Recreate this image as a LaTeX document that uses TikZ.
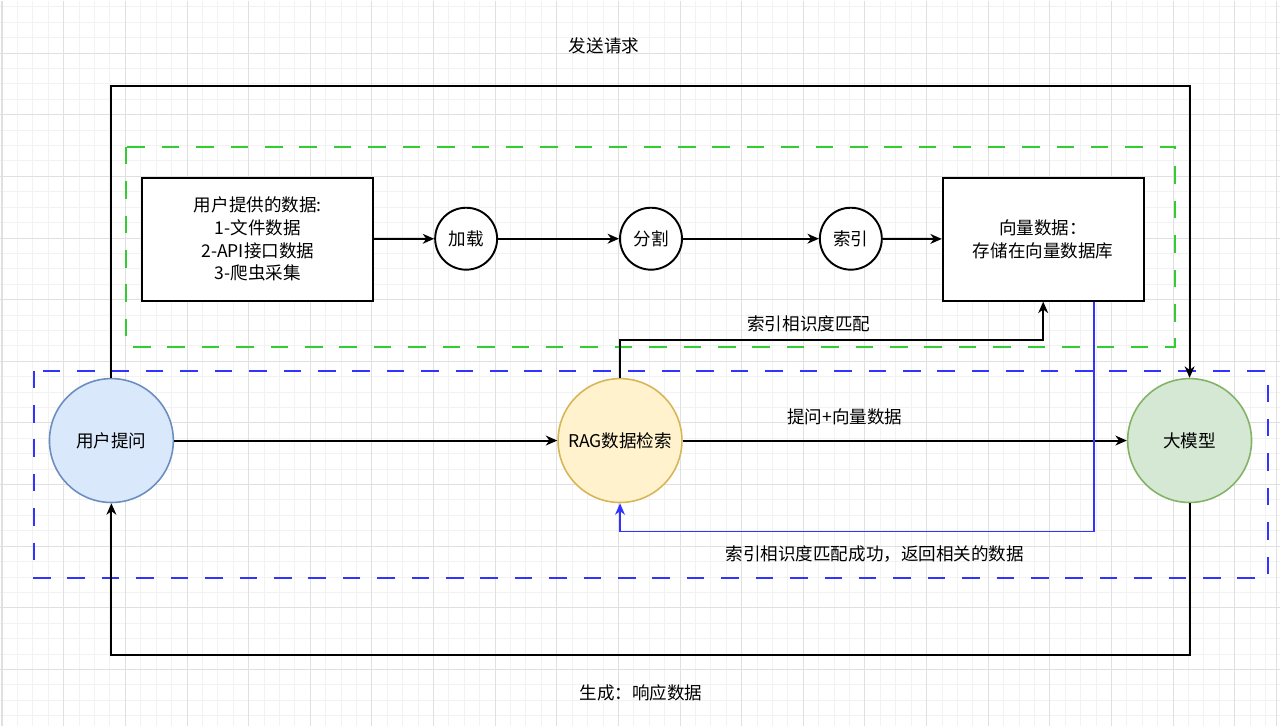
\documentclass[tikz,border=0pt]{standalone}
\usepackage{fontspec}
\setmainfont{Noto Sans CJK SC}
\usetikzlibrary{arrows.meta, calc}

\definecolor{usrfill}{HTML}{DAE8FC}
\definecolor{usrline}{HTML}{6C8EBF}
\definecolor{ragfill}{HTML}{FFF2CC}
\definecolor{ragline}{HTML}{D6B656}
\definecolor{llmfill}{HTML}{D5E8D4}
\definecolor{llmline}{HTML}{82B366}
\definecolor{gridminor}{HTML}{F2F2F2}
\definecolor{gridmajor}{HTML}{E0E0E0}
\definecolor{dashgreen}{HTML}{33CC33}
\definecolor{dashblue}{HTML}{3333FF}

\begin{document}
\begin{tikzpicture}[x=0.02cm, y=-0.02cm, >={Stealth[length=6.5pt, width=5.6pt, inset=2pt]},
  every node/.style={font=\fontsize{10}{12.9}\selectfont},
  flow/.style={->, line width=1.1pt},
  box/.style={draw, line width=1.1pt, fill=white, align=center, minimum height=2.46cm, inner sep=0pt},
  stepnode/.style={draw, circle, line width=1.1pt, fill=white, minimum size=1.24cm, inner sep=0pt},
  bubble/.style={draw, circle, line width=0.9pt, minimum size=2.48cm, inner sep=0pt},
  frame/.style={line width=1.1pt, dash pattern=on 10pt off 9.6pt}]
  % canvas and grid
  \fill[white] (0,0) rectangle (1280,726);
  \foreach \i in {0,...,82} {\draw[gridminor, line width=0.55pt] ({1.6+15.42*\i},0) -- ++(0,726);}
  \foreach \j in {0,...,46} {\draw[gridminor, line width=0.55pt] (0,{6.0+15.42*\j}) -- ++(1280,0);}
  \foreach \i in {0,4,...,80} {\draw[gridmajor, line width=0.55pt] ({1.6+15.42*\i},0) -- ++(0,726);}
  \foreach \j in {3,7,...,43} {\draw[gridmajor, line width=0.55pt] (0,{6.0+15.42*\j}) -- ++(1280,0);}
  \draw[gridmajor, line width=1pt] (1.6,0) -- (1.6,726);
  \draw[gridmajor, line width=1pt] (1277,0) -- (1277,726);

  % dashed groups
  \draw[frame, draw=dashgreen] (126,146) rectangle (1175,346);
  \draw[frame, draw=dashblue] (34,370) rectangle (1268,578);

  % nodes
  \node[box, minimum width=4.62cm] (src) at (257.5,238.5) {用户提供的数据:\\1-文件数据\\2-API接口数据\\3-爬虫采集};
  \node[stepnode] (load) at (466,238) {加载};
  \node[stepnode] (split) at (651,238) {分割};
  \node[stepnode] (index) at (851,238) {索引};
  \node[box, minimum width=4.02cm] (vec) at (1043.5,238.5) {向量数据：\\存储在向量数据库};
  \node[bubble, fill=usrfill, draw=usrline] (user) at (111,440) {用户提问};
  \node[bubble, fill=ragfill, draw=ragline] (rag) at (620,440) {RAG数据检索};
  \node[bubble, fill=llmfill, draw=llmline] (llm) at (1190,440) {大模型};

  % connectors
  \coordinate (topline) at (0,85);
  \coordinate (botline) at (0,655);
  \coordinate (matchline) at (0,339);
  \coordinate (backline) at (0,531);
  \coordinate (vecout) at ($(vec.south)!0.5!(vec.south east)$);
  \draw[flow] (src) -- (load);
  \draw[flow] (load) -- (split);
  \draw[flow] (split) -- (index);
  \draw[flow] (index) -- (vec);
  \draw[flow] (user) -- (rag);
  \draw[flow] (rag) -- (llm);
  \draw[flow] (user.north) -- (user.north |- topline) -| (llm.north);
  \draw[flow] (llm.south) -- (llm.south |- botline) -| (user.south);
  \draw[flow] (rag.north) -- (rag.north |- matchline) -| (vec.south);
  \draw[flow, draw=dashblue, line width=0.9pt] (vecout) -- (vecout |- backline) -| (rag.south);

  % labels
  \node (asklabel) at (604,45) {发送请求};
  \node (genlabel) at (641,692) {生成：响应数据};
  \node (matchlabel) at (809,323) {索引相识度匹配};
  \node (asklabel2) at (845,416) {提问+向量数据};
  \node (backlabel) at (875,554) {索引相识度匹配成功，返回相关的数据};
\end{tikzpicture}
\end{document}
